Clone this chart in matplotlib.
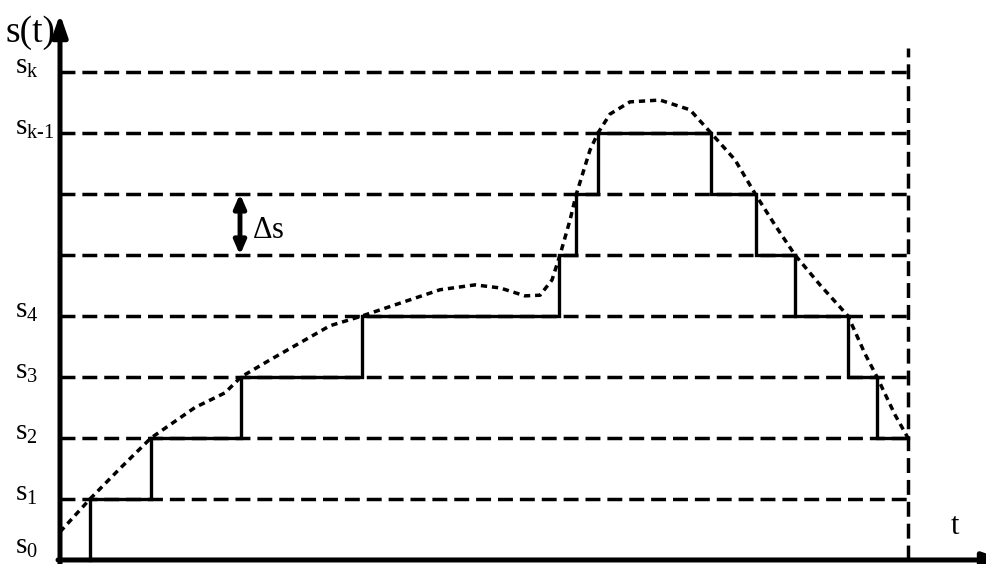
import matplotlib
matplotlib.use('Agg')
import matplotlib.pyplot as plt

plt.rcParams['font.family'] = ['Liberation Serif', 'DejaVu Serif']
plt.rcParams['mathtext.fontset'] = 'custom'
plt.rcParams['mathtext.rm'] = 'Liberation Serif'
plt.rcParams['mathtext.it'] = 'Liberation Serif:italic'

# quantization levels (index) and their labels
levels = [0, 1, 2, 3, 4, 5, 6, 7, 8]
level_labels = [r'$\mathrm{s_0}$', r'$\mathrm{s_1}$', r'$\mathrm{s_2}$', r'$\mathrm{s_3}$',
                r'$\mathrm{s_4}$', '', '', r'$\mathrm{s_{k\text{-}1}}$', r'$\mathrm{s_k}$']
t_end = 84.8

# staircase: switching times and held level after each switch
step_t = [3.0, 9.1, 18.1, 30.2, 49.9, 51.6, 53.8, 65.1, 69.6, 73.5, 78.8, 81.7]
step_lvl = [1, 2, 3, 4, 5, 6, 7, 6, 5, 4, 3, 2]

# continuous signal s(t)
sig_t = [0, 3.0, 6.0, 9.1, 13.5, 16.5, 18.1, 21, 24, 27, 30.2, 34, 38, 41.5, 44, 46.5,
         48, 49.2, 50, 51, 51.6, 53, 53.8, 55, 57, 60, 63, 65.1, 67.5, 69.6, 71.5, 73.5,
         76, 78.8, 80.5, 81.7, 83.5, 84.8]
sig_s = [0.46, 1.0, 1.5, 2.0, 2.5, 2.74, 3.0, 3.28, 3.56, 3.84, 4.0, 4.21, 4.43, 4.51,
         4.46, 4.33, 4.34, 4.59, 5.0, 5.57, 5.98, 6.72, 7.0, 7.31, 7.51, 7.54, 7.38, 7.0,
         6.56, 5.98, 5.49, 5.0, 4.51, 4.0, 3.38, 3.0, 2.38, 2.0]

fig = plt.figure(figsize=(9.87, 5.64), dpi=100)
ax = fig.add_axes([0, 0, 1, 1])
ax.set_xlim(-6.0, 92.7)
ax.set_ylim(-0.066, 9.18)
ax.axis('off')

# horizontal level lines
for lv in levels[1:]:
    ax.plot([0, t_end], [lv, lv], color='black', lw=2.5, dashes=(4.3, 2.0))
for lv, lab in zip(levels, level_labels):
    ax.text(-4.5, max(lv - 0.03, 0.1), lab, fontsize=21, ha='left', va='baseline')

# right vertical dashed boundary
ax.plot([t_end, t_end], [0, 8.4], color='black', lw=2.5, dashes=(4.3, 2.0))

# staircase
xs = [step_t[0], step_t[0]]
ys = [0, step_lvl[0]]
for i in range(1, len(step_t)):
    xs += [step_t[i], step_t[i]]
    ys += [step_lvl[i - 1], step_lvl[i]]
xs.append(t_end)
ys.append(step_lvl[-1])
ax.plot(xs, ys, color='black', lw=2.4, solid_joinstyle='miter')

# signal curve
ax.plot(sig_t, sig_s, color='black', lw=2.5, dashes=(1.8, 1.4))

# axes with arrows
ax.annotate('', xy=(0, 8.95), xytext=(0, -0.2), annotation_clip=False,
            arrowprops=dict(arrowstyle='-|>,head_length=1.3,head_width=0.45', lw=3.6,
                            color='black', shrinkA=0, shrinkB=0))
ax.annotate('', xy=(94.5, 0), xytext=(-0.2, 0), annotation_clip=False,
            arrowprops=dict(arrowstyle='-|>,head_length=1.3,head_width=0.45', lw=3.6,
                            color='black', shrinkA=0, shrinkB=0))

# delta s arrow
ax.annotate('', xy=(18.0, 6.0), xytext=(18.0, 5.0),
            arrowprops=dict(arrowstyle='<|-|>,head_length=0.8,head_width=0.35', lw=3.5,
                            color='black', shrinkA=0, shrinkB=0))
ax.text(19.2, 5.4, r'$\Delta$s', fontsize=22, ha='left', va='center')

ax.text(-0.4, 8.64, 's(t)', fontsize=27, ha='right', va='center')
ax.text(89.5, 0.55, 't', fontsize=22, ha='center', va='center')

fig.savefig('out.png', dpi=100)
